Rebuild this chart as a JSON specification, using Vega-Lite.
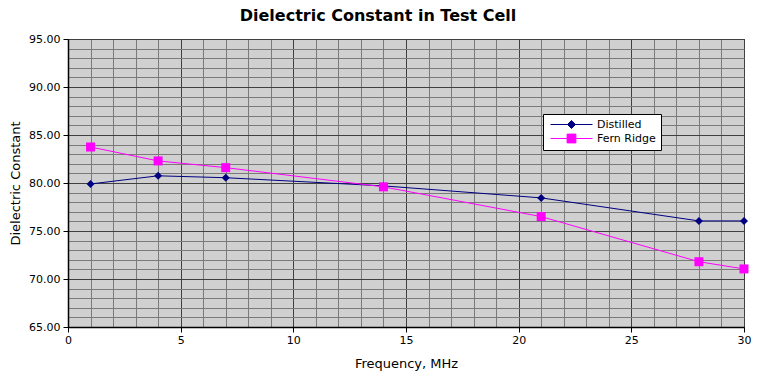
{
  "$schema": "https://vega.github.io/schema/vega-lite/v6.json",
  "autosize": {"type": "none"},
  "width": 676,
  "height": 288,
  "padding": {"left": 68, "top": 39, "right": 14, "bottom": 52},
  "background": "white",
  "title": {
    "text": "Dielectric Constant in Test Cell",
    "font": "DejaVu Sans",
    "fontSize": 16,
    "fontWeight": "bold",
    "color": "black",
    "anchor": "middle",
    "dx": -28,
    "offset": 9
  },
  "config": {
    "font": "DejaVu Sans",
    "view": {"fill": "#d0d0d0", "stroke": "black", "strokeWidth": 1},
    "axis": {
      "labelFont": "DejaVu Sans",
      "labelFontSize": 11,
      "labelColor": "black",
      "titleFont": "DejaVu Sans",
      "titleFontSize": 13,
      "titleFontWeight": "normal",
      "titleColor": "black",
      "domainColor": "black",
      "domainWidth": 1.5,
      "tickColor": "black",
      "tickSize": 5,
      "gridOpacity": 1,
      "gridWidth": 1
    }
  },
  "data": {
    "values": [
      {"freq": 1, "value": 79.9, "series": "Distilled"},
      {"freq": 4, "value": 80.75, "series": "Distilled"},
      {"freq": 7, "value": 80.55, "series": "Distilled"},
      {"freq": 14, "value": 79.7, "series": "Distilled"},
      {"freq": 21, "value": 78.45, "series": "Distilled"},
      {"freq": 28, "value": 76.05, "series": "Distilled"},
      {"freq": 30, "value": 76.05, "series": "Distilled"},
      {"freq": 1, "value": 83.75, "series": "Fern Ridge"},
      {"freq": 4, "value": 82.3, "series": "Fern Ridge"},
      {"freq": 7, "value": 81.6, "series": "Fern Ridge"},
      {"freq": 14, "value": 79.6, "series": "Fern Ridge"},
      {"freq": 21, "value": 76.5, "series": "Fern Ridge"},
      {"freq": 28, "value": 71.8, "series": "Fern Ridge"},
      {"freq": 30, "value": 71.05, "series": "Fern Ridge"}
    ]
  },
  "encoding": {
    "x": {
      "field": "freq",
      "type": "quantitative",
      "title": "Frequency, MHz",
      "scale": {"domain": [0, 30], "nice": false, "zero": false},
      "axis": {
        "values": [0,1,2,3,4,5,6,7,8,9,10,11,12,13,14,15,16,17,18,19,20,21,22,23,24,25,26,27,28,29,30],
        "labelExpr": "datum.value % 5 === 0 ? datum.label : ''",
        "labelFlush": false,
        "labelOverlap": false,
        "tickOpacity": {"condition": {"test": "datum.value % 5 === 0", "value": 1}, "value": 0},
        "gridColor": {"condition": {"test": "datum.value % 5 === 0", "value": "#404040"}, "value": "#7a7a7a"},
        "labelPadding": 2,
        "titlePadding": 12
      }
    },
    "y": {
      "field": "value",
      "type": "quantitative",
      "title": "Dielectric Constant",
      "scale": {"domain": [65, 95], "nice": false, "zero": false},
      "axis": {
        "values": [65,66,67,68,69,70,71,72,73,74,75,76,77,78,79,80,81,82,83,84,85,86,87,88,89,90,91,92,93,94,95],
        "format": ".2f",
        "labelExpr": "datum.value % 5 === 0 ? datum.label : ''",
        "labelFlush": false,
        "labelOverlap": false,
        "tickOpacity": {"condition": {"test": "datum.value % 5 === 0", "value": 1}, "value": 0},
        "gridColor": {"condition": {"test": "datum.value % 5 === 0", "value": "#404040"}, "value": "#7a7a7a"},
        "labelPadding": 3,
        "titlePadding": 6
      }
    },
    "color": {
      "field": "series",
      "type": "nominal",
      "scale": {"domain": ["Distilled", "Fern Ridge"], "range": ["#000080", "#ff00ff"]},
      "legend": {
        "title": null,
        "orient": "none",
        "legendX": 475,
        "legendY": 75,
        "fillColor": "white",
        "strokeColor": "black",
        "padding": 5,
        "labelFont": "DejaVu Sans",
        "labelFontSize": 11,
        "labelColor": "black",
        "labelOffset": 38,
        "rowPadding": 1,
        "symbolSize": 64,
        "symbolStrokeWidth": 1,
        "encode": {
          "symbols": {
            "update": {
              "shape": {"signal": "datum.value === 'Distilled' ? 'M-0.75,0H9.75M4.5,-1L5.5,0L4.5,1L3.5,0Z' : 'M-0.75,0H9.75M3.4,-1.1H5.6V1.1H3.4Z'"},
              "stroke": {"signal": "datum.value === 'Distilled' ? '#000080' : '#ff00ff'"},
              "strokeWidth": {"value": 1},
              "opacity": {"value": 1}
            }
          }
        }
      }
    }
  },
  "layer": [
    {
      "mark": {"type": "line", "strokeWidth": 1},
      "encoding": {}
    },
    {
      "transform": [{"filter": "datum.series === 'Distilled'"}],
      "mark": {"type": "point", "filled": true, "opacity": 1, "shape": "diamond", "size": 64},
      "encoding": {}
    },
    {
      "transform": [{"filter": "datum.series === 'Fern Ridge'"}],
      "mark": {"type": "point", "filled": true, "opacity": 1, "shape": "square", "size": 81},
      "encoding": {}
    }
  ]
}
